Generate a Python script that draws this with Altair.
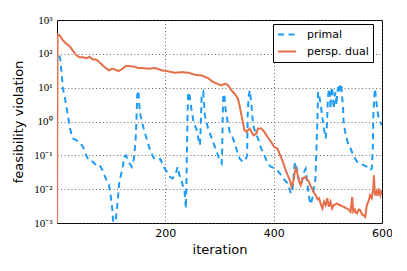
import json
import altair as alt
import pandas as pd

series_names = ["primal", "persp. dual"]
series_colors = ["#1e9cf5", "#e66e48"]
series_dashes = [[6, 4.5], [1, 0]]

primal_iter = [4, 6, 11, 16, 20, 24, 29, 35, 41, 48,
               54, 59, 66, 72, 78, 84, 90, 96, 99, 102,
               105, 108, 112, 115, 121, 124, 127, 132, 138, 142,
               145, 147, 148, 150, 152, 154, 160, 167, 173, 179,
               185, 191, 197, 203, 209, 213, 218, 223, 226, 229,
               232, 235, 238, 239, 240, 241, 242, 244, 248, 252,
               257, 261, 264, 266, 267, 270, 273, 279, 288, 295,
               300, 304, 305, 306, 307, 309, 311, 315, 319, 325,
               331, 337, 343, 348, 351, 352, 354, 356, 359, 362,
               366, 371, 377, 383, 389, 395, 401, 407, 414, 420,
               426, 432, 435, 438, 440, 444, 448, 452, 456, 459,
               462, 465, 468, 471, 474, 477, 479, 481, 482, 484,
               487, 490, 493, 496, 498, 499, 500, 502, 504, 505,
               506, 508, 510, 511, 512, 514, 516, 517, 519, 521,
               523, 525, 526, 528, 529, 532, 535, 538, 542, 547,
               554, 560, 566, 572, 578, 581, 583, 584, 586, 587,
               589, 591, 593, 597, 600]
primal_log10 = [1.95, 1.86, 0.97, 0.58, 0.18, -0.21, -0.50, -0.55, -0.60, -0.75,
                -1.0, -1.16, -1.19, -1.29, -1.27, -1.44, -1.68, -1.88, -2.18, -2.57,
                -3.3, -2.96, -2.37, -1.78, -1.39, -1.05, -1.0, -1.19, -1.34, -1.10,
                -0.60, 0.18, 0.77, 0.92, 0.48, 0.18, -0.21, -0.60, -0.90, -1.09,
                -1.14, -1.11, -1.34, -1.49, -1.64, -1.68, -1.59, -1.34, -1.59, -1.68,
                -1.88, -1.98, -2.57, -1.78, -0.80, 0.18, 0.77, 0.87, 0.38, -0.01,
                -0.21, -0.50, -0.70, 0.18, 0.77, 0.87, 0.18, -0.21, -0.60, -0.90,
                -1.14, -1.24, -0.80, 0.18, 0.77, 0.82, 0.38, -0.01, -0.31, -0.50,
                -0.80, -1.09, -1.19, -1.14, -1.0, 0.18, 0.77, 0.92, 0.48, -0.11,
                -0.31, -0.50, -0.80, -1.0, -1.24, -1.34, -1.37, -1.44, -1.59, -1.73,
                -1.83, -2.13, -2.0, -1.35, -1.2, -1.5, -1.85, -1.8, -1.5, -1.4,
                -1.8, -2.2, -2.45, -2.3, -2.0, -1.7, -0.80, 0.18, 0.87, 0.77,
                0.48, 0.09, -0.21, -0.50, -0.21, 0.18, 0.68, 0.97, 0.77, 0.38,
                0.77, 1.02, 0.58, 0.38, 0.68, 0.87, 0.48, 0.77, 1.02, 0.87,
                1.12, 1.07, 0.77, 0.48, -0.01, -0.31, -0.50, -0.70, -0.80, -1.0,
                -1.19, -1.24, -1.29, -1.34, -1.44, -1.39, -0.80, 0.18, 0.77, 0.97,
                0.68, 0.38, 0.18, -0.01, -0.11]

dual_iter = [0, 1, 5, 11, 17, 23, 29, 35, 41, 48,
             54, 60, 66, 72, 78, 84, 90, 96, 102, 108,
             113, 121, 127, 133, 142, 151, 157, 169, 182, 194,
             206, 218, 231, 243, 255, 267, 279, 288, 298, 304,
             310, 316, 322, 328, 334, 337, 340, 343, 346, 350,
             352, 356, 359, 363, 368, 371, 377, 383, 389, 395,
             401, 407, 412, 417, 421, 426, 431, 433, 437, 439,
             441, 444, 447, 450, 453, 456, 459, 462, 465, 468,
             471, 474, 478, 481, 484, 487, 490, 493, 496, 499,
             502, 505, 508, 511, 514, 517, 520, 523, 526, 529,
             532, 535, 538, 542, 545, 547, 550, 552, 554, 557,
             560, 563, 566, 569, 572, 575, 578, 581, 584, 585,
             587, 590, 592, 594, 597, 600]
dual_log10 = [-4.0, 2.58, 2.54, 2.40, 2.30, 2.23, 2.10, 1.97, 1.90, 1.90,
              1.87, 1.91, 1.83, 1.83, 1.76, 1.66, 1.58, 1.51, 1.56, 1.53,
              1.49, 1.56, 1.64, 1.64, 1.62, 1.58, 1.58, 1.56, 1.58, 1.51,
              1.48, 1.44, 1.46, 1.44, 1.38, 1.36, 1.28, 1.17, 1.10, 1.07,
              1.12, 1.07, 0.92, 0.82, 0.68, 0.48, 0.23, -0.01, -0.26, -0.31,
              -0.26, -0.21, -0.31, -0.41, -0.36, -0.21, -0.21, -0.31, -0.46, -0.60,
              -0.75, -0.80, -1.00, -1.19, -1.39, -1.59, -1.78, -1.93, -1.73, -1.49,
              -1.39, -1.55, -1.78, -1.88, -1.68, -1.66, -1.64, -1.72, -1.78, -1.90,
              -1.98, -2.10, -2.18, -2.30, -2.27, -2.45, -2.57, -2.37, -2.47, -2.27,
              -2.52, -2.37, -2.57, -2.47, -2.45, -2.42, -2.46, -2.47, -2.50, -2.52,
              -2.55, -2.57, -2.60, -2.67, -2.23, -2.67, -2.60, -2.70, -2.72, -2.60,
              -2.62, -2.75, -2.77, -2.82, -2.47, -2.37, -2.18, -2.27, -1.98, -1.59,
              -2.18, -2.08, -2.20, -1.98, -2.18, -2.03]

x_ticks = [200, 400, 600]
y_ticks = [1e-3, 1e-2, 1e-1, 1e0, 1e1, 1e2, 1e3]
y_tick_labels = ["10⁻³", "10⁻²", "10⁻¹", "10⁰", "10¹", "10²", "10³"]

rows = []
for it, e in zip(primal_iter, primal_log10):
    rows.append({"iteration": it, "violation": 10.0 ** e, "series": "primal"})
for it, e in zip(dual_iter, dual_log10):
    rows.append({"iteration": it, "violation": 10.0 ** e, "series": "persp. dual"})
df = pd.DataFrame(rows)

label_expr = json.dumps(y_tick_labels, ensure_ascii=False) + "[round(log(datum.value)/LN10)+3]"

legend = alt.Legend(
    title=None, orient="none", legendX=216, legendY=4,
    strokeColor="black", fillColor="white", padding=4, cornerRadius=0,
    symbolType="stroke", symbolSize=324, symbolStrokeWidth=2,
    labelFont="DejaVu Sans", labelFontSize=11, labelColor="black",
    labelOffset=10, rowPadding=4, clipHeight=13,
)
color = alt.Color("series:N", scale=alt.Scale(domain=series_names, range=series_colors), legend=legend)
dash = alt.StrokeDash("series:N", scale=alt.Scale(domain=series_names, range=series_dashes), legend=legend)

grid_kw = dict(grid=True, gridDash=[1, 2.5], gridColor="#444", gridWidth=0.8)

x = alt.X("iteration:Q",
          scale=alt.Scale(domain=[0, 600], nice=False, zero=False),
          axis=alt.Axis(values=x_ticks, title="iteration", **grid_kw,
                        tickSize=0, domain=False, labelFlush=False,
                        labelFont="DejaVu Sans", labelFontSize=11, labelColor="black",
                        labelPadding=4, titleFont="DejaVu Sans", titleFontSize=13,
                        titleFontWeight="normal", titleColor="black",
                        titleY=26, titleBaseline="middle"))
y = alt.Y("violation:Q",
          scale=alt.Scale(type="log", domain=[1e-3, 1e3], nice=False),
          axis=alt.Axis(values=y_ticks, labelExpr=label_expr, title="feasibility violation",
                        **grid_kw,
                        tickSize=0, domain=False, labelFlush=False,
                        labelFont="Liberation Serif", labelFontSize=11, labelColor="black",
                        labelPadding=5, titleFont="DejaVu Sans", titleFontSize=13,
                        titleFontWeight="normal", titleColor="black",
                        titleX=-39, titleY=101.5, titleAngle=270,
                        titleAlign="center", titleBaseline="middle"))

base = alt.Chart(df).encode(x=x, y=y, color=color, strokeDash=dash)
primal_layer = base.transform_filter(alt.datum.series == "primal").mark_line(strokeWidth=2, clip=True)
dual_layer = base.transform_filter(alt.datum.series == "persp. dual").mark_line(strokeWidth=2, clip=True)

chart = alt.layer(primal_layer, dual_layer).properties(
    width=325, height=203,
    autosize=alt.AutoSizeParams(type="none"),
    padding={"left": 49, "top": 12, "right": 10, "bottom": 40},
    background="white",
).configure_view(stroke="black", strokeWidth=1)

chart.save("out.html", embed_options={"renderer": "svg", "actions": False})
